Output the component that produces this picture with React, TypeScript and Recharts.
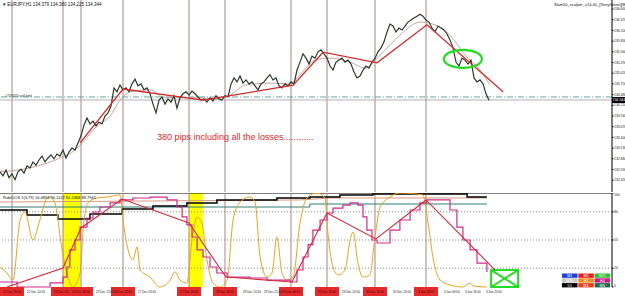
import React from "react"
import {
  ComposedChart,
  Line,
  XAxis,
  YAxis,
  ReferenceLine,
  ReferenceArea,
  ReferenceDot,
} from "recharts"

// x = bar number on the H1 chart, the window shows 204 bars
const barCount = 204

// close of every bar sample (one sample per bar)
const closes = [
  132.53, 132.43, 132.58, 132.38, 132.48, 132.33, 132.53, 132.6, 132.5, 132.68,
  132.63, 132.78, 132.7, 132.83, 132.93, 132.78, 132.88, 132.96, 132.86, 132.98,
  132.93, 133.08, 132.88, 133.03, 133.13, 133.08, 133.26, 133.44, 133.71, 133.89,
  133.74, 133.81, 133.69, 133.79, 133.74, 133.94, 134.02, 134.19, 134.65, 134.55,
  134.72, 134.6, 134.65, 134.55, 134.75, 134.87, 134.7, 134.75, 134.6, 134.65,
  134.5, 134.24, 134.02, 134.34, 134.42, 134.24, 134.37, 134.29, 134.45, 134.14,
  134.4, 134.5, 134.55, 134.47, 134.57, 134.5, 134.42, 134.34, 134.37, 134.29,
  134.4, 134.32, 134.45, 134.37, 134.34, 134.45, 134.42, 134.75, 134.9, 134.8,
  134.95, 134.77, 134.85, 134.75, 134.8, 134.7, 134.6, 134.75, 134.8, 134.9,
  134.98, 134.85, 134.9, 134.7, 134.65, 134.75, 134.7, 134.8, 134.75, 135.1,
  135.3, 135.51, 135.4, 135.25, 135.45, 135.4, 135.56, 135.61, 135.51, 135.4,
  135.2, 135.1, 135.3, 135.35, 135.4, 135.3, 135.35, 135.25, 135.05, 134.9,
  134.95, 135.1, 135.2, 135.15, 135.3, 135.4, 135.56, 135.66, 135.81, 136.06,
  136.26, 136.21, 136.06, 136.16, 136.11, 136.21, 136.31, 136.36, 136.41, 136.46,
  136.51, 136.46, 136.36, 136.31, 136.16, 136.06, 136.21, 136.16, 136.11, 136.01,
  135.86, 135.66, 135.3, 135.2, 135.4, 135.35, 135.25, 135.35, 134.9, 134.8,
  134.85, 134.75, 134.5, 134.34,
]

const maBars = [
  0, 10, 20, 25, 28.3, 31.7, 36.7, 40, 43.3, 50, 55, 61.7, 66.7, 71.7, 76.7, 81.7,
  90, 96.7, 100, 105, 110, 116.7, 121.7, 126.7, 133.3, 140, 145, 150, 155, 160, 163.3,
]
const maValues = [
  132.53, 132.63, 132.88, 133.08, 133.34, 133.64, 133.94, 134.34, 134.55, 134.6,
  134.4, 134.4, 134.4, 134.37, 134.47, 134.72, 134.77, 134.75, 134.98, 135.35,
  135.4, 135.3, 135.15, 135.48, 135.98, 136.31, 136.24, 135.98, 135.48, 135.1, 134.72,
]

const trendBars = [26.7, 41, 67.7, 97.7, 107.7, 125.7, 142.3, 167.7]
const trendPrices = [133.26, 134.62, 134.34, 134.72, 135.55, 135.28, 136.24, 134.55]

const priceTicks = [
  136.64, 136.37, 136.1, 135.83, 135.56, 135.29, 135.02, 134.75, 134.48, 134.21,
  133.94, 133.67, 133.4, 133.13, 132.86, 132.59, 132.32,
]
const lastPrice = 134.344
const sellLimit = 134.42

const sessionBars = [4, 21, 27, 41, 63, 75, 97, 109, 125, 142]
const sessionLabels = [
  "22 Dec 09:00", "23 Dec 02:00", "23 Dec 08:00", "26 Dec 22:00", "27 Dec 20:00",
  "28 Dec 08:00", "29 Dec 06:00", "29 Dec 18:00", "30 Dec 10:00", "3 Jan 03:00",
]
const timeBars = [9, 32, 46, 81, 88, 114, 131, 148, 155, 162]
const timeLabels = [
  "22 Dec 14:00", "23 Dec 13:00", "27 Dec 03:00", "28 Dec 14:00", "28 Dec 21:00",
  "29 Dec 23:00", "30 Dec 16:00", "3 Jan 09:00", "3 Jan 16:00", "3 Jan 23:00",
]

// oscillator window
const oscTicks = [0, 20, 50, 80, 100]

const orangeBars = [
  0, 2.3, 4.3, 6.7, 8.3, 11, 13.3, 15.7, 16.7, 18.3, 20.7, 22.3, 24.3, 26.7, 27.7,
  29.3, 32.3, 35.7, 40, 41, 42.7, 44.3, 45.7, 46.7, 50, 53.3, 56.7, 58.3, 60, 62.3,
  64, 65.7, 67.3, 69, 71, 73.3, 75.7, 77.7, 80, 83.3, 85, 86.7, 89, 90.7, 92.3, 94,
  95.7, 97.7, 100, 102.3, 105.7, 108.3, 109.3, 111, 112.7, 115, 116.7, 117.7, 119.3,
  121, 123.3, 125, 126.7, 130, 133.3, 141, 142.7, 144.3, 146.7, 150, 154.3, 156.7,
  157.7, 162.3,
]
const orangeValues = [
  21.3, 14.9, 7.4, 71.3, 79.8, 50, 71.3, 94.7, 95.7, 89.4, 39.4, 14.9, 0, 14.9, 60.6,
  89.4, 94.7, 95.7, 97.9, 71.3, 39.4, 28.7, 42.6, 18.1, 10.6, 0, 7.4, 16, 7.4, 4.3,
  50, 74.5, 68.1, 28.7, 4.3, 0, 7.4, 71.3, 90.4, 95.7, 90.4, 31.9, 10.6, 14.9, 53.2,
  14.9, 7.4, 10.6, 68.1, 94.7, 100, 94.7, 57.4, 21.3, 12.8, 18.1, 50, 58.5, 25.5,
  10.6, 12.8, 53.2, 85.1, 95.7, 100, 97.9, 68.1, 31.9, 7.4, 2.1, 0, 4.3, 1, 0,
]

const signalBars = [
  0, 5.7, 11, 16.7, 21, 22.3, 23.3, 25, 26.7, 29, 31, 33.3, 36.7, 40, 44.3, 50, 55.7,
  59, 60.7, 62.3, 64, 65.7, 67.7, 70, 72.3, 75.7, 83.3, 89, 96.7, 99, 101, 102.7,
  104.3, 106.7, 109, 111, 114.3, 116.7, 119.3, 121, 122.3, 124, 125.7, 127.7, 130,
  133.3, 136.7, 140, 142.3, 147.7, 150, 152.3, 154.3, 156.7, 159, 162.3,
]
const signalValues = [
  5.3, 0, 0, 4.3, 10.6, 21.3, 39.4, 50, 63.8, 73.4, 79.8, 85.1, 89.4, 92.6, 94.7, 95.7,
  92.6, 85.1, 74.5, 66, 53.2, 39.4, 31.9, 21.3, 14.9, 10.6, 9.6, 7.4, 5.3, 18.1, 31.9,
  45, 60.6, 71.3, 78.7, 84, 87.2, 89.4, 87.2, 74.5, 60.6, 50, 46.8, 46.8, 60.6, 71.3,
  81.9, 89.4, 92.6, 92.6, 81.9, 63.8, 50, 39.4, 25.5, 16,
]

const swingBars = [2.3, 21, 27, 40.7, 63, 75.3, 97.3, 109, 125.3, 142, 165]
const swingValues = [0, 20.2, 62.8, 93.6, 68.1, 10.6, 5.3, 78.7, 51.1, 92.6, 18.1]

const blackBars = [0, 9, 19.3, 30, 40.7, 51, 62.3, 72.3, 92.3, 103.3, 113.3, 124.3, 155.7, 162.3]
const blackValues = [81.9, 76.6, 72.3, 77.7, 83, 86.2, 89.4, 92.6, 94.7, 95.7, 97.9, 98.9, 95.7, 95.7]
const salmonBars = [0, 100, 110, 162.3]
const salmonValues = [90.4, 92.6, 94.7, 94.7]
const tealBars = [0, 103.3, 162.3]
const tealValues = [85.1, 88.3, 88.3]

const highlightBands = [
  [21, 26.7],
  [63, 67.7],
]

const tfNames = ["M1", "M5", "M15", "M30", "H1", "H4", "D1", "W1", "MN"]
const tfColors = ["#1d3fd6", "#e02020", "#2fc02f", "#c8c8c8", "#f08a1c", "#c81f84", "#000000", "#e5401e", "#1f6a4a"]

const zip = (xs: number[], ys: number[], key: string) => xs.map((x, i) => ({ x, [key]: ys[i] }))

const priceData = closes.map((p, i) => ({ x: i, p }))
const maData = zip(maBars, maValues, "v")
const trendData = zip(trendBars, trendPrices, "v")
const orangeData = zip(orangeBars, orangeValues, "v")
const signalData = zip(signalBars, signalValues, "v")
const swingData = zip(swingBars, swingValues, "v")
const blackData = zip(blackBars, blackValues, "v")
const salmonData = zip(salmonBars, salmonValues, "v")
const tealData = zip(tealBars, tealValues, "v")

const sessionColor = "#a98383"
const font = "Liberation Sans, Arial, sans-serif"

function PriceTag(props: any) {
  const vb = props.viewBox || {}
  const x = vb.x + vb.width
  const y = vb.y
  return (
    <g>
      <rect x={x} y={y - 3} width={13} height={6} fill="#000" />
      <text x={x + 0.8} y={y + 1.4} fontSize={3.4} fill="#fff" fontFamily={font}>
        {lastPrice.toFixed(3)}
      </text>
    </g>
  )
}

function TimeTick(props: any) {
  const { x, y, payload } = props
  const s = sessionBars.indexOf(payload.value)
  if (s >= 0) {
    return (
      <g>
        <rect x={x - 12} y={y} width={24} height={9} fill="#e32b2b" />
        <text x={x} y={y + 5.5} textAnchor="middle" fontSize={3} fill="#4a0000" fontFamily={font}>
          {sessionLabels[s]}
        </text>
      </g>
    )
  }
  const t = timeBars.indexOf(payload.value)
  return (
    <text x={x} y={y + 5.5} fontSize={3} fill="#222" fontFamily={font}>
      {timeLabels[t]}
    </text>
  )
}

// keep the top "100" label inside the window
function OscTick(props: any) {
  const { x, y, payload } = props
  const dy = payload.value === 100 ? 3.2 : payload.value === 0 ? -0.5 : 1.2
  return (
    <text x={x} y={y + dy} fontSize={3.4} fill="#222" fontFamily={font}>
      {payload.value}
    </text>
  )
}

const lineProps = { dot: false, activeDot: false, isAnimationActive: false, legendType: "none" as const }

export default function App() {
  return (
    <div
      style={{
        position: "absolute",
        left: 0,
        top: 0,
        width: 625,
        height: 296,
        background: "#fff",
        overflow: "hidden",
        fontFamily: font,
      }}
    >
      <div style={{ position: "absolute", left: 0, top: 0 }}>
        <ComposedChart width={625} height={192} margin={{ top: 0, right: 0, bottom: 0, left: 0 }}>
          <XAxis type="number" dataKey="x" domain={[0, barCount]} hide allowDataOverflow />
          <YAxis
            type="number"
            orientation="right"
            width={13}
            domain={[132.022, 136.867]}
            ticks={priceTicks}
            interval={0}
            allowDataOverflow
            tickSize={1.5}
            tickMargin={0.5}
            tick={{ fontSize: 3.4, fill: "#222", fontFamily: font }}
            tickFormatter={(v: number) => v.toFixed(3)}
            axisLine={{ stroke: "#000" }}
            tickLine={{ stroke: "#000" }}
          />
          {sessionBars.map((b) => (
            <ReferenceLine key={b} x={b} stroke={sessionColor} strokeWidth={1} />
          ))}
          <ReferenceLine
            y={sellLimit}
            stroke="#5fa8a0"
            strokeDasharray="6 2 1 2"
            label={{ value: "#759370 sell limit", position: "insideLeft", fontSize: 3.5, fill: "#333", dy: -1 }}
          />
          <ReferenceLine y={lastPrice} stroke="#b0b0b0" label={<PriceTag />} />
          <Line data={maData} dataKey="v" type="monotone" stroke="#c08a8a" strokeWidth={0.8} {...lineProps} />
          <Line data={priceData} dataKey="p" type="linear" stroke="#2b3b2b" strokeWidth={1.2} {...lineProps} />
          <Line data={trendData} dataKey="v" type="linear" stroke="#d42a2a" strokeWidth={1.3} {...lineProps} />
          <ReferenceDot
            x={154.3}
            y={135.38}
            ifOverflow="visible"
            shape={(p: any) => (
              <ellipse cx={p.cx} cy={p.cy} rx={19} ry={9} fill="none" stroke="#22dd22" strokeWidth={2.2} />
            )}
          />
        </ComposedChart>
      </div>

      <div style={{ position: "absolute", left: 0, top: 193 }}>
        <ComposedChart width={625} height={103} margin={{ top: 0, right: 0, bottom: 0, left: 0 }}>
          <XAxis
            type="number"
            dataKey="x"
            domain={[0, barCount]}
            allowDataOverflow
            height={9}
            ticks={[...sessionBars, ...timeBars]}
            interval={0}
            tickSize={0}
            tickMargin={0}
            axisLine={false}
            tick={<TimeTick />}
          />
          <YAxis
            type="number"
            orientation="right"
            width={13}
            domain={[0, 100]}
            ticks={oscTicks}
            interval={0}
            tickSize={1.5}
            tickMargin={0.5}
            tick={<OscTick />}
            axisLine={{ stroke: "#000" }}
            tickLine={{ stroke: "#000" }}
          />
          {highlightBands.map(([a, b]) => (
            <ReferenceArea key={a} x1={a} x2={b} y1={0} y2={100} fill="#ffff00" fillOpacity={1} stroke="none" />
          ))}
          {[20, 50, 80].map((v) => (
            <ReferenceLine key={v} y={v} stroke="#888" strokeDasharray="1 2" />
          ))}
          <ReferenceLine y={100} stroke="#000" strokeWidth={1} />
          {sessionBars.map((b) => (
            <ReferenceLine key={b} x={b} stroke={sessionColor} strokeWidth={1} />
          ))}
          <Line data={tealData} dataKey="v" type="stepAfter" stroke="#2e7d74" strokeWidth={1} {...lineProps} />
          <Line data={salmonData} dataKey="v" type="linear" stroke="#d49a80" strokeWidth={1} {...lineProps} />
          <Line data={blackData} dataKey="v" type="stepAfter" stroke="#000" strokeWidth={1.5} {...lineProps} />
          <Line data={orangeData} dataKey="v" type="monotone" stroke="#e8a31f" strokeWidth={1} {...lineProps} />
          <Line data={signalData} dataKey="v" type="stepAfter" stroke="#cf2a8f" strokeWidth={1.2} {...lineProps} />
          <Line data={swingData} dataKey="v" type="linear" stroke="#d42a3a" strokeWidth={1.1} {...lineProps} />
          <ReferenceArea
            x1={163.7}
            x2={172.7}
            y1={0}
            y2={18}
            ifOverflow="visible"
            shape={(p: any) => (
              <g fill="none" stroke="#22dd22" strokeWidth={2}>
                <rect x={p.x} y={p.y} width={p.width} height={p.height} />
                <line x1={p.x} y1={p.y} x2={p.x + p.width} y2={p.y + p.height} />
                <line x1={p.x} y1={p.y + p.height} x2={p.x + p.width} y2={p.y} />
              </g>
            )}
          />
        </ComposedChart>
      </div>

      <svg width={625} height={296} style={{ position: "absolute", left: 0, top: 0, pointerEvents: "none" }}>
        <text x={3} y={6} fontSize={4.5} fill="#111" fontFamily={font}>
          ▾ EURJPY,H1  134.379 134.380 134.225 134.344
        </text>
        <text x={554} y={6} fontSize={4} fill="#111" fontFamily={font}>
          Slam50_scalper_v14.40_[TerryGreen][B]
        </text>
        <text x={3} y={199} fontSize={4} fill="#111" fontFamily={font}>
          RubiOOS 1(3,79) 16.4894 96.1122 90.2468 88.7941
        </text>
        <text x={157} y={140} fontSize={9} fill="#e0262c" fontFamily={font}>
          380 pips including all the losses............
        </text>
        {tfNames.map((n, i) => {
          const col = i % 3
          const row = Math.floor(i / 3)
          return (
            <g key={n}>
              <rect x={562 + col * 16.3} y={273.5 + row * 4.8} width={15.5} height={4.3} fill={tfColors[i]} />
              <text
                x={562 + col * 16.3 + 7.75}
                y={273.5 + row * 4.8 + 3.4}
                fontSize={3.6}
                textAnchor="middle"
                fill="#fff"
                fontFamily={font}
              >
                {n}
              </text>
            </g>
          )
        })}
      </svg>
    </div>
  )
}
